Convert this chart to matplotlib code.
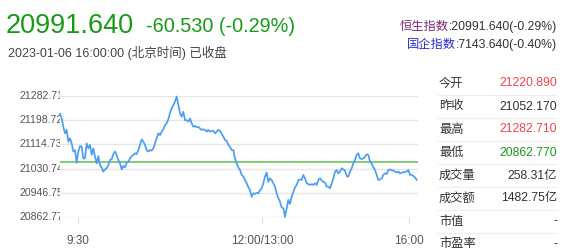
import matplotlib
matplotlib.use("Agg")
import matplotlib.pyplot as plt
from matplotlib.patches import Rectangle

plt.rcParams['font.family'] = ['Liberation Sans', 'Noto Sans CJK SC', 'DejaVu Sans']

# ---------------- data ----------------
last_price = "20991.640"
change_text = "-60.530 (-0.29%)"
timestamp_text = "2023-01-06 16:00:00 (北京时间) 已收盘"
hsi_label = "恒生指数"
hsi_value = ":20991.640(-0.29%)"
hscei_label = "国企指数"
hscei_value = ":7143.640(-0.40%)"

prev_close = 21052.17
y_tick_values = [21282.710, 21198.722, 21114.734, 21030.746, 20946.758, 20862.770]
y_tick_labels = ["21282.710", "21198.722", "21114.734", "21030.746", "20946.758", "20862.770"]
x_tick_labels = ["9:30", "12:00/13:00", "16:00"]

prices = [
    21221, 21205, 21176, 21153, 21165, 21124, 21136, 21118, 21090, 21095,
    21051, 21090, 21109, 21107, 21066, 21066, 21118, 21101, 21113, 21078,
    21101, 21072, 21049, 21074, 21043, 21035, 21020, 21028, 21032, 21043,
    21061, 21063, 21081, 21090, 21078, 21061, 21049, 21028, 21040, 21035,
    21051, 21055, 21066, 21074, 21078, 21084, 21081, 21095, 21113, 21132,
    21124, 21113, 21095, 21090, 21095, 21093, 21101, 21118, 21136, 21153,
    21147, 21159, 21167, 21182, 21188, 21202, 21223, 21240, 21251, 21263,
    21281, 21251, 21223, 21211, 21228, 21199, 21199, 21194, 21205, 21188,
    21176, 21179, 21174, 21176, 21170, 21165, 21167, 21165, 21159, 21165,
    21159, 21161, 21162, 21153, 21159, 21165, 21162, 21151, 21142, 21130,
    21127, 21113, 21107, 21095, 21095, 21066, 21049, 21035, 21026, 21009,
    21003, 20991, 20980, 20966, 20956, 20933, 20945, 20943, 20947, 20945,
    20956, 20962, 20980, 21003, 21017, 20985, 20997, 20991, 20980, 20968,
    20945, 20928, 20916, 20896, 20893, 20863, 20893, 20922, 20908, 20933,
    20950, 20966, 20974, 20991, 20993, 20991, 21009, 20997, 20980, 20977,
    20974, 20977, 20974, 20980, 20974, 20991, 20997, 20989, 20985, 20982,
    20968, 20968, 20962, 20980, 20997, 21020, 21026, 21014, 21020, 21032,
    21028, 21024, 21005, 21003, 21020, 21032, 21049, 21061, 21078, 21084,
    21066, 21064, 21066, 21072, 21081, 21078, 21055, 21049, 21035, 21026,
    21009, 20991, 20993, 20997, 21009, 21014, 21012, 21026, 21028, 21024,
    21024, 21020, 21017, 21021, 21014, 21017, 21017, 21020, 21020, 21026,
    21009, 21009, 21005, 21000, 20992,
]

stat_names = ["今开", "昨收", "最高", "最低", "成交量", "成交额", "市值", "市盈率"]
stat_values = ["21220.890", "21052.170", "21282.710", "20862.770", "258.31亿", "1482.75亿", "-", "-"]
stat_colors = ["#f0454b", "#333333", "#f0454b", "#1a9a1a", "#333333", "#333333", "#333333", "#333333"]

# ---------------- figure ----------------
W, H = 563, 252
fig = plt.figure(figsize=(W / 100, H / 100), dpi=100)
fig.patch.set_facecolor("white")

def fx(px):
    return px / W

def fy(py):
    return 1 - py / H

# header texts
fig.text(fx(6), fy(26), last_price, fontsize=19.5, color="#179b16", ha="left", va="center")
fig.text(fx(146), fy(26), change_text, fontsize=14.3, color="#179b16", ha="left", va="center")
fig.text(fx(8), fy(53), timestamp_text, fontsize=9, color="#444444", ha="left", va="center")

def right_pair(y, label, label_color, value):
    t2 = fig.text(fx(557), fy(y), value, fontsize=8.8, color="#333333", ha="right", va="center")
    fig.canvas.draw()
    bb = t2.get_window_extent()
    fig.text(bb.x0 / W, fy(y), label, fontsize=8.8, color=label_color, ha="right", va="center")

right_pair(27, hsi_label, "#7b2a7b", hsi_value)
right_pair(45, hscei_label, "#2a2ad0", hscei_value)

# stats table
row_y0 = 83.5
row_dy = 23.0
for i, (nm, val, col) in enumerate(zip(stat_names, stat_values, stat_colors)):
    y = row_y0 + i * row_dy
    fig.text(fx(439), fy(y), nm, fontsize=8.8, color="#333333", ha="left", va="center")
    fig.text(fx(557), fy(y), val, fontsize=8.8, color=col, ha="right", va="center")
    if i < len(stat_names) - 1:
        fig.add_artist(plt.Line2D([fx(438), fx(557)], [fy(y + 11.6), fy(y + 11.6)],
                                  color="#eeeeee", lw=0.8))

# main chart
ax_left, ax_right, ax_top, ax_bot = 60, 418, 96, 217
ax = fig.add_axes([fx(ax_left), fy(ax_bot), (ax_right - ax_left) / W, (ax_bot - ax_top) / H])
ax.set_facecolor("none")
for s in ax.spines.values():
    s.set_visible(False)

xs = list(range(len(prices)))
ax.set_xlim(0, (ax_right - ax_left) * 3 / 5)
ax.set_ylim(y_tick_values[-1], y_tick_values[0])

for v in y_tick_values:
    ax.axhline(v, color="#e6e6e6", lw=1.0, zorder=1)
ax.axhline(prev_close, color="#5cbf4f", lw=1.1, zorder=2)
ax.plot(xs, prices, color="#4a9ff5", lw=1.25, zorder=3, clip_on=False)

ax.set_yticks([])
tick_pos = [10.8, 121.2, 209.4]
ax.set_xticks(tick_pos)
ax.set_xticklabels(x_tick_labels, fontsize=8.5, color="#555555")
ax.tick_params(axis="x", length=4, width=0.8, color="#dddddd", pad=9)

# y labels drawn at left, clipped at plot edge
clip = Rectangle((0, 0), fx(59.5), 1, transform=fig.transFigure, facecolor="none", edgecolor="none")
fig.add_artist(clip)
for v, lab in zip(y_tick_values, y_tick_labels):
    py = ax_top + (y_tick_values[0] - v) / (y_tick_values[0] - y_tick_values[-1]) * (ax_bot - ax_top)
    t = fig.text(fx(19), fy(py), lab, fontsize=7.6, color="#555555", ha="left", va="center")
    t.set_clip_path(clip)
    t.set_clip_on(True)

fig.savefig("out.png", dpi=100, facecolor="white")
